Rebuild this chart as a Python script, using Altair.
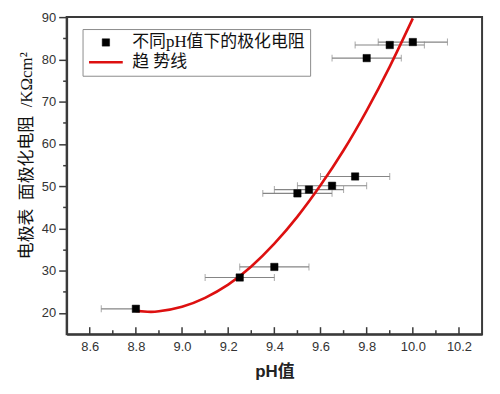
import altair as alt
import pandas as pd

# ---- data ----
ph = [8.80, 9.25, 9.40, 9.50, 9.55, 9.65, 9.75, 9.80, 9.90, 10.00]
resistance = [21.0, 28.4, 30.9, 48.3, 49.2, 50.1, 52.3, 80.3, 83.4, 84.1]
ph_lo = [8.65, 9.10, 9.25, 9.35, 9.40, 9.50, 9.60, 9.65, 9.75, 9.85]
ph_hi = [8.80, 9.40, 9.55, 9.65, 9.70, 9.80, 9.90, 9.95, 10.05, 10.15]

curve_ph = [8.80, 8.85, 8.90, 9.00, 9.10, 9.20, 9.30, 9.40, 9.50, 9.60, 9.70, 9.80, 9.90, 10.00]
curve_res = [20.5, 20.3, 20.4, 21.5, 23.6, 26.7, 31.0, 36.4, 42.8, 50.2, 58.5, 67.9, 78.3, 89.7]

x_major = [8.6, 8.8, 9.0, 9.2, 9.4, 9.6, 9.8, 10.0, 10.2]
x_minor = [8.7, 8.9, 9.1, 9.3, 9.5, 9.7, 9.9, 10.1]
y_ticks = [20, 25, 30, 35, 40, 45, 50, 55, 60, 65, 70, 75, 80, 85, 90]

S1 = "不同pH值下的极化电阻"
S2 = "趋 势线"
series_names = [S1, S2]
Y_TITLE = "电极表\u2002面极化电阻\u2002/KΩcm²"

W, H = 418, 319
FRAME = "#3a3a3a"
CJK_SERIF = "Liberation Serif, Noto Sans CJK SC"

pts = pd.DataFrame({"ph": ph, "res": resistance, "lo": ph_lo, "hi": ph_hi, "series": S1})
curve = pd.DataFrame({"ph": curve_ph, "res": curve_res, "series": S2})
xmaj = pd.DataFrame({"v": x_major})
xmin = pd.DataFrame({"v": x_minor})

xs = alt.Scale(domain=[8.5, 10.3], nice=False, zero=False)
ys = alt.Scale(domain=[15, 90], nice=False, zero=False)

x_axis = alt.Axis(
    values=x_major, format=".1f", ticks=False, tickSize=0, grid=False,
    labelFont="Liberation Sans", labelFontSize=13, labelColor="#333", labelPadding=6,
    title="pH值", titleFont="Liberation Sans, Noto Sans CJK SC", titleFontSize=17,
    titleFontWeight="bold", titleColor="#222", titlePadding=11,
    domainColor=FRAME, domainWidth=2,
)
y_axis = alt.Axis(
    values=y_ticks, labelExpr="datum.value % 10 === 0 ? datum.label : ''",
    tickSize={"condition": {"test": "datum.value % 10 === 0", "value": 8}, "value": 4},
    tickColor=FRAME, tickWidth=1.5, grid=False,
    labelFont="Liberation Sans", labelFontSize=13, labelColor="#333", labelPadding=3,
    title=Y_TITLE, titleFont=CJK_SERIF, titleFontSize=17,
    titleFontWeight="normal", titleColor="#111", titlePadding=6, titleY=139,
    domainColor=FRAME, domainWidth=2,
)


def X(field):
    return alt.X(field, scale=xs, axis=x_axis, title="pH值")


def Y(field):
    return alt.Y(field, scale=ys, axis=y_axis, title=Y_TITLE)


leg = alt.Legend(
    orient="none", legendX=16, legendY=12, title=None,
    labelFont=CJK_SERIF, labelFontSize=17, labelColor="#111",
    strokeColor="#8c8c8c", fillColor="white", padding=5, rowPadding=2,
    symbolOffset=10, labelOffset=18, labelLimit=400, symbolOpacity=1,
)

colors = ["#000000", "#dd1010"]
fill_enc = alt.Fill("series:N", scale=alt.Scale(domain=series_names, range=colors), legend=leg, title=None)
stroke_enc = alt.Stroke("series:N", scale=alt.Scale(domain=series_names, range=colors), legend=leg, title=None)
shape_enc = alt.Shape("series:N", scale=alt.Scale(domain=series_names, range=["square", "M-2.4,0H2.4"]), legend=leg, title=None)
size_enc = alt.Size("series:N", scale=alt.Scale(domain=series_names, range=[55, 200]), legend=leg, title=None)
sw_enc = alt.StrokeWidth("series:N", scale=alt.Scale(domain=series_names, range=[0.5, 2.6]), legend=leg, title=None)

ERR = "#858585"
err = alt.Chart(pts).mark_rule(color=ERR, strokeWidth=1.2).encode(
    x=X("lo:Q"), x2="hi:Q", y=Y("res:Q")
)
cap_lo = alt.Chart(pts).mark_tick(color=ERR, orient="vertical", size=7, thickness=1).encode(
    x=X("lo:Q"), y=Y("res:Q")
)
cap_hi = alt.Chart(pts).mark_tick(color=ERR, orient="vertical", size=7, thickness=1).encode(
    x=X("hi:Q"), y=Y("res:Q")
)

line = alt.Chart(curve).mark_line(interpolate="natural").encode(
    x=X("ph:Q"), y=Y("res:Q"), stroke=stroke_enc, strokeWidth=sw_enc
)
points = alt.Chart(pts).mark_point(filled=True, opacity=1).encode(
    x=X("ph:Q"), y=Y("res:Q"),
    fill=fill_enc, stroke=stroke_enc, shape=shape_enc, size=size_enc, strokeWidth=sw_enc,
)

tick_major = alt.Chart(xmaj).mark_rule(color=FRAME, strokeWidth=1.5).encode(
    x=X("v:Q"), y=alt.value(H), y2=alt.value(H - 7)
)
tick_minor = alt.Chart(xmin).mark_rule(color=FRAME, strokeWidth=1.5).encode(
    x=X("v:Q"), y=alt.value(H), y2=alt.value(H - 4)
)

chart = alt.layer(err, cap_lo, cap_hi, line, points, tick_major, tick_minor).properties(
    width=W, height=H,
    autosize=alt.AutoSizeParams(type="none"),
    padding={"left": 59, "top": 8, "right": 10, "bottom": 50},
).configure(background="white").configure_view(stroke=FRAME, strokeWidth=2)

chart.save("out.html", embed_options={"renderer": "svg", "actions": False})
